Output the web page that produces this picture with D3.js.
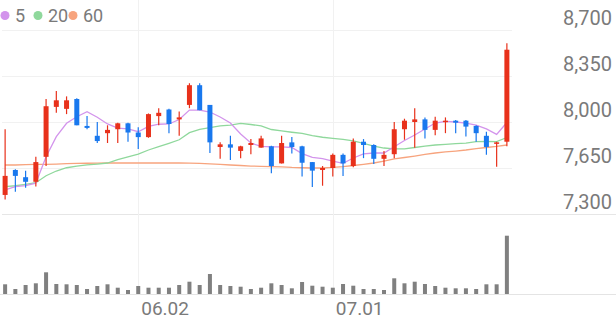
<!DOCTYPE html>
<html>
<head>
<meta charset="utf-8">
<script src="https://cdn.jsdelivr.net/npm/d3@7"></script>
<style>
  html, body { margin: 0; padding: 0; background: #fff; }
  svg { display: block; font-family: Roboto, "Noto Sans", sans-serif; }
</style>
</head>
<body>
<svg id="chart" width="616" height="321"></svg>
<script>
const dates = [
  "05.14", "05.15", "05.16", "05.19", "05.20", "05.21", "05.22", "05.23", "05.26", "05.27",
  "05.28", "05.29", "05.30", "06.02", "06.04", "06.05", "06.09", "06.10", "06.11", "06.12",
  "06.13", "06.16", "06.17", "06.18", "06.19", "06.20", "06.23", "06.24", "06.25", "06.26",
  "06.27", "06.30", "07.01", "07.02", "07.03", "07.04", "07.07", "07.08", "07.09", "07.10",
  "07.11", "07.14", "07.15", "07.16", "07.17", "07.18", "07.21", "07.22", "07.23", "07.24",
];
const open = [
  7445, 7635, 7580, 7545, 7735, 8115, 8100, 8175, 7970, 7895,
  7915, 7945, 7990, 7920, 7885, 8045, 8095, 8020, 8130, 8280,
  8130, 7810, 7830, 7780, 7825, 7805, 7815, 7685, 7845, 7815,
  7695, 7635, 7650, 7750, 7665, 7850, 7825, 7720, 7755, 7945,
  8000, 8020, 7940, 8000, 8010, 8010, 7970, 7895, 7835, 7850,
];
const high = [
  7945, 7640, 7630, 7735, 8175, 8235, 8195, 8180, 8045, 8000,
  7975, 7995, 7995, 7960, 8065, 8105, 8100, 8080, 8295, 8295,
  8130, 7845, 7895, 7820, 7870, 7895, 7820, 7895, 7885, 7820,
  7695, 7665, 7760, 7760, 7875, 7870, 7830, 7780, 8000, 8025,
  8105, 8035, 8040, 8035, 8015, 8015, 7975, 7925, 7850, 8600,
];
const low = [
  7410, 7470, 7500, 7510, 7665, 8070, 8060, 7975, 7945, 7840,
  7840, 7840, 7850, 7795, 7880, 7975, 7915, 7895, 8105, 8090,
  7765, 7720, 7710, 7725, 7755, 7805, 7610, 7685, 7760, 7585,
  7505, 7515, 7585, 7590, 7655, 7725, 7680, 7665, 7725, 7865,
  7805, 7875, 7900, 7915, 7915, 7890, 7850, 7750, 7660, 7815,
];
const close = [
  7590, 7590, 7545, 7695, 8120, 8165, 8165, 7975, 7955, 7855,
  7940, 7990, 7920, 7885, 8060, 8070, 7985, 8035, 8280, 8090,
  7845, 7830, 7805, 7815, 7840, 7875, 7665, 7840, 7810, 7690,
  7630, 7650, 7750, 7685, 7850, 7825, 7720, 7750, 7945, 8010,
  8020, 7940, 8010, 8010, 7995, 7965, 7915, 7810, 7845, 8550,
];
const volume = [
  97, 50, 90, 107, 217, 100, 97, 90, 50, 80,
  97, 63, 40, 80, 63, 63, 63, 90, 123, 90,
  200, 90, 80, 73, 50, 63, 107, 90, 57, 120,
  83, 73, 63, 100, 83, 50, 50, 40, 157, 107,
  123, 100, 80, 63, 57, 57, 50, 97, 97, 583,
];
// moving averages as drawn on the chart
const ma5 = [
  7483, 7508, 7516, 7534, 7736, 7888, 7990, 8040, 8078, 8036,
  7985, 7954, 7947, 7926, 7966, 7983, 7985, 8019, 8091, 8091,
  8076, 8038, 7992, 7909, 7840, 7814, 7810, 7810, 7806, 7760,
  7731, 7722, 7703, 7686, 7726, 7757, 7764, 7764, 7812, 7859,
  7901, 7947, 7992, 8004, 8000, 7992, 7977, 7947, 7906, 7996,
];
const ma20 = [
  7508, 7515, 7526, 7538, 7591, 7627, 7652, 7665, 7673, 7680,
  7688, 7713, 7734, 7756, 7787, 7812, 7838, 7865, 7919, 7944,
  7958, 7970, 7977, 7989, 7981, 7970, 7943, 7932, 7922, 7913,
  7897, 7884, 7876, 7868, 7857, 7838, 7817, 7802, 7796, 7795,
  7806, 7817, 7825, 7830, 7835, 7840, 7850, 7853, 7850, 7882,
];
const ma60 = [
  7673, 7673, 7675, 7677, 7678, 7680, 7683, 7685, 7686, 7687,
  7688, 7688, 7688, 7688, 7688, 7688, 7688, 7688, 7687, 7685,
  7681, 7677, 7673, 7669, 7665, 7663, 7660, 7658, 7654, 7652,
  7650, 7650, 7654, 7660, 7669, 7678, 7688, 7703, 7719, 7730,
  7741, 7753, 7764, 7772, 7779, 7787, 7797, 7806, 7814, 7825,
];
const priceTicks = [7300, 7650, 8000, 8350, 8700];
const dateTicks = ["06.02", "07.01"];
const maLabels = ["5", "20", "60"];

const width = 616;
const height = 321;
const plotRight = 512;
const upColor = "#e8311b";
const downColor = "#1978ee";
const maColors = ["#d394ec", "#8fd89c", "#f7a47e"];
const gridColor = "#f1f1f1";
const textColor = "#7a7a7a";

const svg = d3.select("#chart");

const x = d3.scaleBand().domain(dates).range([0, plotRight]).padding(0);
const cx = (d) => x(d) + x.bandwidth() / 2;
const y = d3.scaleLinear().domain([7300, 8700]).range([214, 30]);
const yVol = d3.scaleLinear().domain([0, 600]).range([294, 234]);

// Grid
const grid = svg.append("g");
grid
  .selectAll("line.h")
  .data(priceTicks)
  .join("line")
  .attr("class", "h")
  .attr("x1", 2)
  .attr("x2", (d) => (d === 7300 ? width : plotRight))
  .attr("y1", (d) => Math.round(y(d)) + 0.5)
  .attr("y2", (d) => Math.round(y(d)) + 0.5)
  .attr("stroke", (d) => (d === 7300 ? "#e6e6e6" : gridColor));

grid
  .selectAll("line.v")
  .data(dateTicks)
  .join("line")
  .attr("class", "v")
  .attr("x1", (d) => Math.round(cx(d)) + 0.5)
  .attr("x2", (d) => Math.round(cx(d)) + 0.5)
  .attr("y1", 0)
  .attr("y2", 294)
  .attr("stroke", gridColor);

// Volume baseline
svg
  .append("line")
  .attr("x1", 0)
  .attr("x2", width)
  .attr("y1", 294.5)
  .attr("y2", 294.5)
  .attr("stroke", "#e4e4e4");

// Right price axis
const yAxis = d3
  .axisRight(y)
  .tickValues(priceTicks)
  .tickSize(0)
  .tickFormat(d3.format(","));
const axisG = svg.append("g").attr("transform", `translate(${width - 4},0)`).call(yAxis);
axisG.select(".domain").remove();
axisG
  .selectAll("text")
  .attr("x", 0)
  .attr("dy", -6)
  .attr("text-anchor", "end")
  .attr("fill", textColor)
  .attr("font-size", 20)
  .attr("font-family", "Roboto, sans-serif");

// Date axis
const xAxis = d3.axisBottom(x).tickValues(dateTicks).tickSize(0);
const xAxisG = svg.append("g").attr("transform", "translate(0,294)").call(xAxis);
xAxisG.select(".domain").remove();
xAxisG
  .selectAll("text")
  .attr("x", 3)
  .attr("y", 21)
  .attr("dy", 0)
  .attr("text-anchor", "start")
  .attr("fill", textColor)
  .attr("font-size", 19)
  .attr("font-family", "Roboto, sans-serif");

// Volume bars
svg
  .append("g")
  .selectAll("rect")
  .data(volume)
  .join("rect")
  .attr("x", (d, i) => cx(dates[i]) - 2)
  .attr("width", 4)
  .attr("y", (d) => yVol(d))
  .attr("height", (d) => yVol(0) - yVol(d))
  .attr("fill", "#808080");

// Moving averages
const maSeries = [ma5, ma20, ma60];
const line = d3
  .line()
  .x((d, i) => cx(dates[i]))
  .y((d) => y(d));
svg
  .append("g")
  .selectAll("path")
  .data(maSeries.slice().reverse())
  .join("path")
  .attr("d", (d) => line(d))
  .attr("fill", "none")
  .attr("stroke", (d, i) => maColors[2 - i])
  .attr("stroke-width", 1.3);

// Candles
const candles = svg
  .append("g")
  .selectAll("g")
  .data(dates)
  .join("g")
  .attr("fill", (d, i) => (close[i] >= open[i] ? upColor : downColor))
  .attr("stroke", (d, i) => (close[i] >= open[i] ? upColor : downColor));

candles
  .append("line")
  .attr("x1", (d) => cx(d))
  .attr("x2", (d) => cx(d))
  .attr("y1", (d, i) => y(high[i]))
  .attr("y2", (d, i) => y(low[i]))
  .attr("stroke-width", 1.2);

candles
  .append("rect")
  .attr("x", (d) => cx(d) - 2.5)
  .attr("width", 5)
  .attr("y", (d, i) => y(Math.max(open[i], close[i])))
  .attr("height", (d, i) => Math.max(1.5, Math.abs(y(open[i]) - y(close[i]))))
  .attr("stroke", "none");

// Legend
const legend = svg.append("g");
const legendX = [5, 38, 73];
maLabels.forEach((label, i) => {
  legend.append("circle").attr("cx", legendX[i]).attr("cy", 15.5).attr("r", 4.5).attr("fill", maColors[i]);
  legend
    .append("text")
    .attr("x", legendX[i] + 10)
    .attr("y", 22)
    .attr("fill", textColor)
    .attr("font-size", 18)
    .text(label);
});
</script>
</body>
</html>
